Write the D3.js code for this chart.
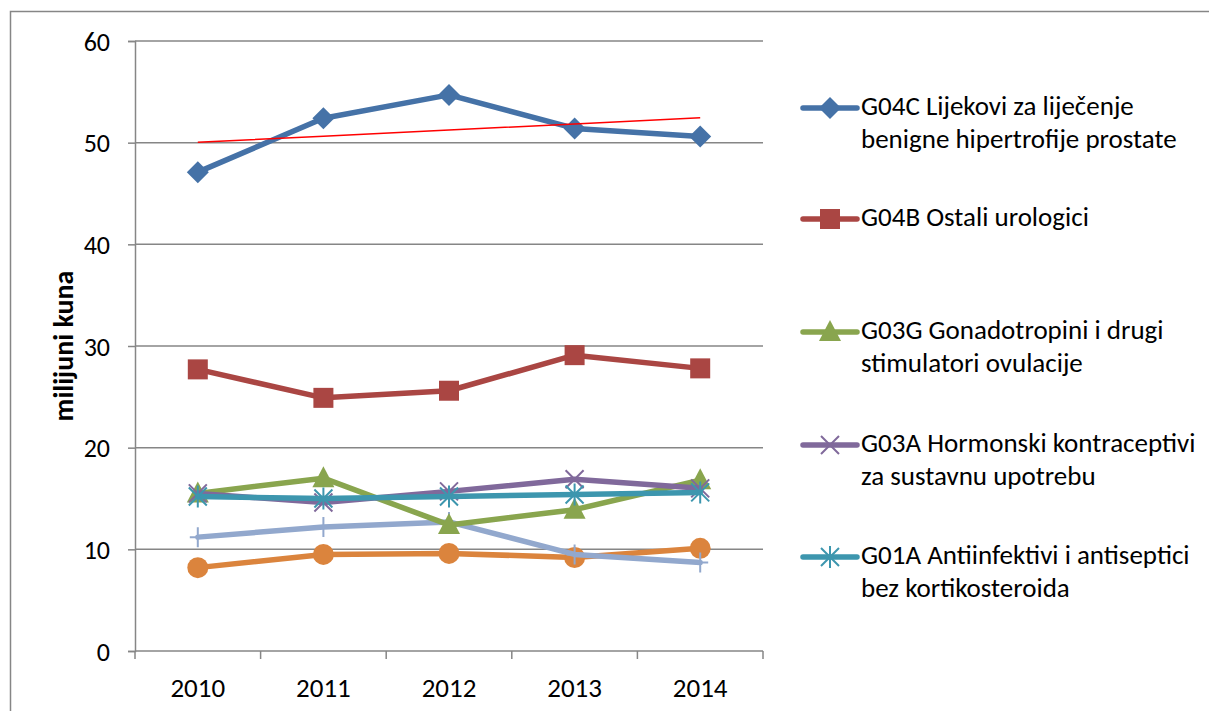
<!DOCTYPE html>
<html>
<head>
<meta charset="utf-8">
<script src="https://cdn.jsdelivr.net/npm/d3@7"></script>
<style>
  body { margin: 0; background: #fff; }
  text { font-family: Carlito, Lato, 'Open Sans', sans-serif; fill: #000; }
</style>
</head>
<body>
<script>
// data
let years = ['2010', '2011', '2012', '2013', '2014']
let yTicks = [0, 10, 20, 30, 40, 50, 60]

let g04c = [47.1, 52.4, 54.7, 51.4, 50.6]
let g04b = [27.7, 24.9, 25.6, 29.1, 27.8]
let g03g = [15.5, 17.0, 12.4, 13.9, 16.8]
let g03a = [15.5, 14.6, 15.7, 16.9, 16.0]
let g01a = [15.2, 15.0, 15.2, 15.4, 15.6]
let other1 = [11.2, 12.2, 12.7, 9.5, 8.7]
let other2 = [8.2, 9.5, 9.6, 9.2, 10.1]

let seriesNames = [
  ['G04C Lijekovi za liječenje', 'benigne hipertrofije prostate'],
  ['G04B Ostali urologici'],
  ['G03G Gonadotropini i drugi', 'stimulatori ovulacije'],
  ['G03A Hormonski kontraceptivi', 'za sustavnu upotrebu'],
  ['G01A Antiinfektivi i antiseptici', 'bez kortikosteroida']
]

// drawing order: last ones sit on top
let series = [
  { values: other2, color: '#DB843D', marker: 'circle' },
  { values: other1, color: '#92A8CD', marker: 'plus' },
  { values: g04c, color: '#4572A7', marker: 'diamond', legend: 0 },
  { values: g04b, color: '#AA4643', marker: 'square', legend: 1 },
  { values: g03g, color: '#89A54E', marker: 'triangle', legend: 2 },
  { values: g03a, color: '#80699B', marker: 'cross', legend: 3 },
  { values: g01a, color: '#3D96AE', marker: 'star', legend: 4 }
]

let width = 1209, height = 711
let margin = { top: 41, bottom: 60, left: 135, right: 446 }

let svg = d3.select('body').append('svg').attr('width', width).attr('height', height)

// outer frame (left and top edges visible only)
svg.append('path').attr('d', `M10.5,${height} V11.5 H${width}`)
  .attr('fill', 'none').attr('stroke', '#868686').attr('stroke-width', 1.5)

let yScale = d3.scaleLinear().domain([0, 60]).range([height - margin.bottom, margin.top])
let xBand = d3.scaleBand().domain(years).range([margin.left, width - margin.right])
let xScale = d => xBand(d) + xBand.bandwidth() / 2

let plotBottom = yScale(0)

// gridlines
svg.append('g').selectAll('line').data(yTicks.slice(1)).enter().append('line')
  .attr('x1', margin.left).attr('x2', width - margin.right)
  .attr('y1', d => yScale(d)).attr('y2', d => yScale(d))
  .attr('stroke', '#868686').attr('stroke-width', 1.5)

// y axis
let yAxis = svg.append('g').attr('transform', `translate(${margin.left},0)`)
  .call(d3.axisLeft(yScale).tickValues(yTicks).tickSize(7).tickPadding(18))
yAxis.select('.domain').attr('stroke', '#868686').attr('stroke-width', 1.5)
yAxis.selectAll('.tick line').attr('stroke', '#868686').attr('stroke-width', 1.5)
yAxis.selectAll('.tick text').style('font-size', '26px').attr('dy', '0.35em')
  .style('font-family', 'Carlito, Lato, sans-serif')

// x axis, ticks between categories
let xAxis = svg.append('g').attr('transform', `translate(0,${plotBottom})`)
xAxis.append('line').attr('x1', margin.left).attr('x2', width - margin.right)
  .attr('stroke', '#868686').attr('stroke-width', 1.5)
let edges = years.map(d => xBand(d)).concat([width - margin.right])
xAxis.selectAll('.tk').data(edges).enter().append('line')
  .attr('x1', d => d).attr('x2', d => d).attr('y1', 0).attr('y2', 8)
  .attr('stroke', '#868686').attr('stroke-width', 1.5)
xAxis.selectAll('.lbl').data(years).enter().append('text')
  .attr('x', d => xScale(d)).attr('y', 37).attr('dy', '0.35em').attr('text-anchor', 'middle')
  .style('font-size', '27px').text(d => d)

// y title
svg.append('text').attr('transform', `translate(63,${(yScale(0) + yScale(60)) / 2}) rotate(-90)`)
  .attr('text-anchor', 'middle').attr('dy', '0.35em').style('font-size', '28px').style('font-weight', 'bold')
  .text('milijuni kuna')

function drawMarker(g, type, color) {
  if (type == 'diamond') g.append('path').attr('d', 'M0,-11 L11,0 L0,11 L-11,0 Z').attr('fill', color)
  if (type == 'square') g.append('rect').attr('x', -10).attr('y', -10).attr('width', 20).attr('height', 20).attr('fill', color)
  if (type == 'triangle') g.append('path').attr('d', 'M0,-12 L11,9 L-11,9 Z').attr('fill', color)
  if (type == 'circle') g.append('circle').attr('r', 10.5).attr('fill', color)
  if (type == 'cross') g.append('path').attr('d', 'M-9,-9 L9,9 M-9,9 L9,-9').attr('stroke', color).attr('stroke-width', 2)
  if (type == 'star') g.append('path').attr('d', 'M-9,-9 L9,9 M-9,9 L9,-9 M0,-11 V11').attr('stroke', color).attr('stroke-width', 2)
  if (type == 'plus') g.append('path').attr('d', 'M0,-10 V10 M-8,0 H8').attr('stroke', color).attr('stroke-width', 2)
}

let line = d3.line().x((d, i) => xScale(years[i])).y(d => yScale(d))

series.forEach(s => {
  svg.append('path').datum(s.values).attr('d', line)
    .attr('fill', 'none').attr('stroke', s.color).attr('stroke-width', 5.5)
    .attr('stroke-linejoin', 'round').attr('stroke-linecap', 'round')
  s.values.forEach((v, i) => {
    let g = svg.append('g').attr('transform', `translate(${xScale(years[i])},${yScale(v)})`)
    drawMarker(g, s.marker, s.color)
  })
})

// linear trend of G04C
let xs = years.map((d, i) => i)
let xm = d3.mean(xs), ym = d3.mean(g04c)
let slope = d3.sum(xs, (x, i) => (x - xm) * (g04c[i] - ym)) / d3.sum(xs, x => (x - xm) * (x - xm))
let trend = xs.map(x => ym + slope * (x - xm))
svg.append('path').datum(trend).attr('d', line)
  .attr('fill', 'none').attr('stroke', '#FF0000').attr('stroke-width', 1.5)

// legend
let legendY = [108, 219, 332, 445, 557]
series.filter(s => s.legend != undefined).forEach(s => {
  let g = svg.append('g').attr('transform', `translate(830,${legendY[s.legend]})`)
  g.append('line').attr('x1', -27).attr('x2', 27).attr('stroke', s.color)
    .attr('stroke-width', 5.5).attr('stroke-linecap', 'round')
  drawMarker(g, s.marker, s.color)
  seriesNames[s.legend].forEach((t, j) => {
    g.append('text').attr('x', 31).attr('y', j * 33).attr('dy', '0.27em')
      .style('font-size', '27px').text(t)
  })
})
</script>
</body>
</html>
